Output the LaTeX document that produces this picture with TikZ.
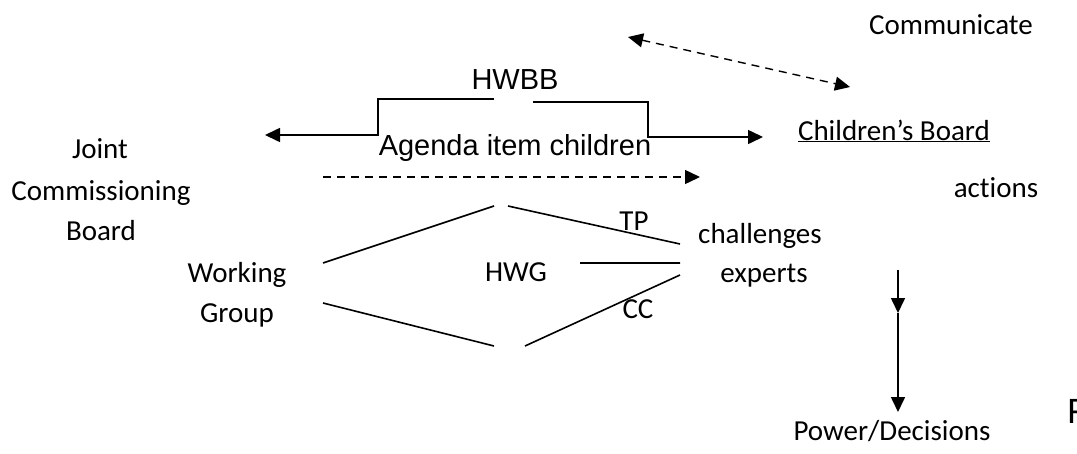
\documentclass[tikz,border=0pt]{standalone}
\usepackage{fontspec}
\setmainfont[Ligatures=NoCommon]{Carlito}
\newfontfamily\arialfont{Liberation Sans}
\usetikzlibrary{arrows.meta,positioning}
\tikzset{
  lbl/.style={inner sep=0pt,anchor=base,font=\fontsize{29}{34}\selectfont},
  albl/.style={inner sep=0pt,anchor=base,font=\arialfont\fontsize{29}{34}\selectfont},
  solidline/.style={line width=1.6pt},
  tipend/.style={-{Triangle[length=15pt,width=14pt]}},
  dashline/.style={line width=1.4pt,dash pattern=on 8pt off 6pt},
}
\begin{document}
\begin{tikzpicture}[x=1pt,y=-1pt]
\useasboundingbox (0,0) rectangle (1077,453);
% texts
\node[lbl] (comm) at (951,34) {Communicate};
\node[albl] (hwbb) at (515,89) {HWBB};
\node[albl] (agenda) at (515,155) {Agenda item children};
\node[lbl] (cboard) at (894,140) {\underline{Children’s Board}};
\node[lbl] (actions) at (996,197) {actions};
\node[lbl] (jcb1) at (100,158) {Joint};
\node[lbl] (jcb2) at (101,200) {Commissioning};
\node[lbl] (jcb3) at (101,240) {Board};
\node[lbl] (wg1) at (237,282) {Working};
\node[lbl] (wg2) at (237,322) {Group};
\node[lbl] (hwg) at (516,281) {HWG};
\node[lbl] (tp) at (634,230) {TP};
\node[lbl] (cc) at (638,318) {CC};
\node[lbl] (chal) at (760,243) {challenges};
\node[lbl] (exp) at (764,282) {experts};
\node[lbl] (power) at (892,440) {Power/Decisions};
\node[inner sep=0pt,anchor=base west,font=\arialfont\fontsize{35}{40}\selectfont] (ff) at (1067,423) {F};
% ends of the connectors
\coordinate (ca) at (628,37);
\coordinate (cb) at (850,87);
\coordinate (hwL) at (494,99);
\coordinate (hwR) at (533,102);
\coordinate (jcbtip) at (265,135);
\coordinate (cbtip) at (763,137);
\coordinate (ag1) at (323,177);
\coordinate (ag2) at (700,177);
\coordinate (dW1) at (323,263);
\coordinate (dW2) at (323,303);
\coordinate (dN1) at (494,206);
\coordinate (dN2) at (508,206);
\coordinate (dS1) at (494,346);
\coordinate (dS2) at (525,346);
\coordinate (dE1) at (680,244);
\coordinate (dE2) at (680,263);
\coordinate (dE3) at (680,275);
\coordinate (dM) at (580,263);
\coordinate (pd0) at (898,270);
\coordinate (pd1) at (898,313);
\coordinate (pd2) at (898,412);
% connectors
\draw[dashline,{Triangle[length=15pt,width=14pt]}-{Triangle[length=15pt,width=14pt]}] (ca) -- (cb);
\draw[solidline,tipend] (hwL) -| (378,135) -- (jcbtip);
\draw[solidline,tipend] (hwR) -| (648,137) -- (cbtip);
\draw[dashline,tipend] (ag1) -- (ag2);
\draw[solidline] (dW1) -- (dN1) (dN2) -- (dE1) (dM) -- (dE2)
  (dE3) -- (dS2) (dW2) -- (dS1);
\draw[solidline,tipend] (pd0) -- (pd1);
\draw[solidline,tipend] (pd1) -- (pd2);
\end{tikzpicture}
\end{document}
